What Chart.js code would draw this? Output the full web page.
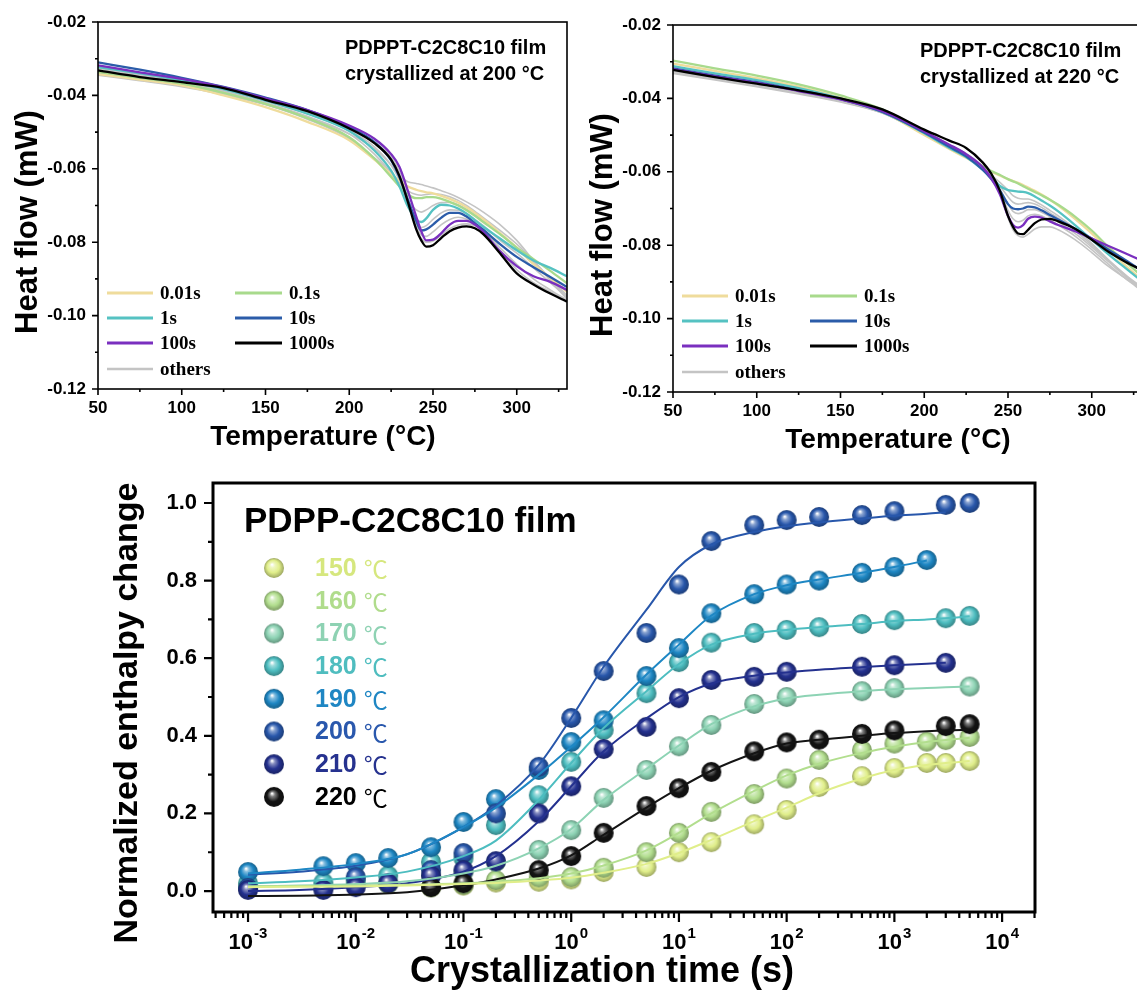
<!DOCTYPE html>
<html>
<head>
<meta charset="utf-8">
<title>PDPPT-C2C8C10 crystallization</title>
<script src="https://cdn.jsdelivr.net/npm/chart.js@4.4.1/dist/chart.umd.min.js"></script>
<style>
  html, body { margin: 0; padding: 0; background: #fff; }
  body { width: 1137px; height: 994px; position: relative; overflow: hidden; }
  canvas { position: absolute; }
</style>
</head>
<body>
<canvas id="dsc200" width="570" height="460" style="left:0;top:0"></canvas>
<canvas id="dsc220" width="600" height="460" style="left:575px;top:3px"></canvas>
<canvas id="kinetics" width="1137" height="534" style="left:0;top:460px"></canvas>
<script>
const SANS = '"Liberation Sans", Arial, sans-serif';
const SERIF = '"Liberation Serif", "Times New Roman", serif';

// ---------- DSC heating scans (heat flow, mW) ----------
const tempTicks = [50, 100, 150, 200, 250, 300];
const heatTicks = [-0.02, -0.04, -0.06, -0.08, -0.10, -0.12];

const holdLabels = ['0.01s', '0.1s', '1s', '10s', '100s', '1000s'];
const holdColors = ['#efdc9c', '#a8da8c', '#55c2c2', '#2b5ca9', '#7a2fbf', '#000000'];
const othersColor = '#c4c4c4';

// crystallized at 200 °C
const temps200 = [50, 75, 100, 125, 150, 175, 200, 215, 225, 230, 235, 240, 243, 246, 250, 255, 260, 265, 270, 275, 280, 290, 300, 310, 320, 330];
const hf200_001 = [-0.0342, -0.0357, -0.0373, -0.0400, -0.0432, -0.0472, -0.0522, -0.0575, -0.0615, -0.0633, -0.0648, -0.0657, -0.0661, -0.0664, -0.0667, -0.0674, -0.0682, -0.0692, -0.0705, -0.0720, -0.0737, -0.0775, -0.0815, -0.0860, -0.0897, -0.0935];
const hf200_01 = [-0.0336, -0.0352, -0.0368, -0.0393, -0.0423, -0.0462, -0.0514, -0.0572, -0.0622, -0.0648, -0.0670, -0.0680, -0.0680, -0.0677, -0.0677, -0.0682, -0.0690, -0.0700, -0.0713, -0.0728, -0.0745, -0.0778, -0.0815, -0.0846, -0.0878, -0.0912];
const hf200_1 = [-0.0323, -0.0340, -0.0359, -0.0383, -0.0414, -0.0450, -0.0497, -0.0550, -0.0605, -0.0648, -0.0703, -0.0738, -0.0745, -0.0735, -0.0712, -0.0698, -0.0700, -0.0708, -0.0722, -0.0740, -0.0758, -0.0790, -0.0822, -0.0850, -0.0870, -0.0893];
const hf200_10 = [-0.0310, -0.0330, -0.0352, -0.0377, -0.0406, -0.0440, -0.0486, -0.0527, -0.0577, -0.0623, -0.0685, -0.0742, -0.0768, -0.0765, -0.0752, -0.0733, -0.0720, -0.0720, -0.0730, -0.0748, -0.0766, -0.0805, -0.0840, -0.0868, -0.0895, -0.0922];
const hf200_100 = [-0.0318, -0.0337, -0.0355, -0.0378, -0.0408, -0.0440, -0.0482, -0.0518, -0.0560, -0.0595, -0.0660, -0.0730, -0.0770, -0.0795, -0.0793, -0.0775, -0.0752, -0.0742, -0.0742, -0.0752, -0.0772, -0.0825, -0.0865, -0.0893, -0.0908, -0.0930];
const hf200_1000 = [-0.0332, -0.0350, -0.0364, -0.0380, -0.0412, -0.0443, -0.0490, -0.0530, -0.0575, -0.0620, -0.0690, -0.0765, -0.0795, -0.0812, -0.0808, -0.0788, -0.0770, -0.0760, -0.0757, -0.0762, -0.0778, -0.0830, -0.0885, -0.0915, -0.0940, -0.0962];
const hf200_others = [
  [-0.0345, -0.0360, -0.0376, -0.0398, -0.0425, -0.0460, -0.0505, -0.0545, -0.0590, -0.0620, -0.0635, -0.0640, -0.0643, -0.0647, -0.0652, -0.0660, -0.0668, -0.0678, -0.0690, -0.0703, -0.0718, -0.0752, -0.0795, -0.0850, -0.0905, -0.0955],
  [-0.0340, -0.0355, -0.0370, -0.0395, -0.0425, -0.0465, -0.0518, -0.0570, -0.0610, -0.0638, -0.0660, -0.0670, -0.0672, -0.0670, -0.0668, -0.0670, -0.0676, -0.0686, -0.0700, -0.0716, -0.0733, -0.0768, -0.0805, -0.0850, -0.0900, -0.0950],
  [-0.0330, -0.0347, -0.0365, -0.0390, -0.0420, -0.0457, -0.0505, -0.0560, -0.0612, -0.0648, -0.0690, -0.0712, -0.0718, -0.0712, -0.0700, -0.0692, -0.0692, -0.0698, -0.0710, -0.0725, -0.0742, -0.0778, -0.0815, -0.0855, -0.0900, -0.0945],
  [-0.0328, -0.0345, -0.0362, -0.0387, -0.0416, -0.0450, -0.0495, -0.0540, -0.0590, -0.0632, -0.0695, -0.0745, -0.0760, -0.0755, -0.0738, -0.0720, -0.0712, -0.0713, -0.0722, -0.0738, -0.0755, -0.0795, -0.0830, -0.0870, -0.0910, -0.0950],
  [-0.0325, -0.0343, -0.0360, -0.0384, -0.0412, -0.0445, -0.0490, -0.0530, -0.0575, -0.0615, -0.0680, -0.0748, -0.0780, -0.0784, -0.0772, -0.0752, -0.0738, -0.0732, -0.0737, -0.0750, -0.0768, -0.0815, -0.0860, -0.0900, -0.0930, -0.0958],
  [-0.0330, -0.0348, -0.0363, -0.0381, -0.0412, -0.0442, -0.0488, -0.0526, -0.0568, -0.0608, -0.0680, -0.0758, -0.0790, -0.0800, -0.0797, -0.0780, -0.0763, -0.0753, -0.0750, -0.0755, -0.0770, -0.0822, -0.0875, -0.0910, -0.0935, -0.0960]
];

// crystallized at 220 °C
const temps220 = [50, 75, 100, 125, 150, 175, 200, 215, 225, 235, 240, 245, 250, 253, 256, 259, 262, 266, 270, 275, 280, 290, 300, 310, 320, 330];
const hf220_001 = [-0.0305, -0.0325, -0.0345, -0.0368, -0.0398, -0.0436, -0.0500, -0.0538, -0.0562, -0.0588, -0.0600, -0.0610, -0.0620, -0.0625, -0.0630, -0.0636, -0.0643, -0.0652, -0.0662, -0.0676, -0.0692, -0.0728, -0.0768, -0.0812, -0.0855, -0.0895];
const hf220_01 = [-0.0297, -0.0318, -0.0338, -0.0362, -0.0392, -0.0430, -0.0492, -0.0532, -0.0558, -0.0585, -0.0598, -0.0608, -0.0620, -0.0626, -0.0632, -0.0639, -0.0646, -0.0655, -0.0664, -0.0676, -0.0690, -0.0722, -0.0760, -0.0805, -0.0845, -0.0885];
const hf220_1 = [-0.0312, -0.0332, -0.0350, -0.0372, -0.0400, -0.0437, -0.0495, -0.0535, -0.0560, -0.0595, -0.0615, -0.0638, -0.0650, -0.0652, -0.0654, -0.0655, -0.0658, -0.0667, -0.0678, -0.0692, -0.0708, -0.0745, -0.0785, -0.0825, -0.0862, -0.0898];
const hf220_10 = [-0.0318, -0.0338, -0.0356, -0.0378, -0.0402, -0.0437, -0.0493, -0.0532, -0.0558, -0.0595, -0.0620, -0.0650, -0.0688, -0.0700, -0.0702, -0.0700, -0.0695, -0.0697, -0.0705, -0.0718, -0.0730, -0.0755, -0.0782, -0.0812, -0.0840, -0.0870];
const hf220_100 = [-0.0320, -0.0340, -0.0358, -0.0380, -0.0403, -0.0435, -0.0490, -0.0526, -0.0552, -0.0588, -0.0618, -0.0660, -0.0720, -0.0745, -0.0752, -0.0745, -0.0728, -0.0722, -0.0725, -0.0735, -0.0745, -0.0762, -0.0782, -0.0802, -0.0822, -0.0842];
const hf220_1000 = [-0.0322, -0.0342, -0.0360, -0.0378, -0.0400, -0.0430, -0.0485, -0.0515, -0.0535, -0.0575, -0.0605, -0.0650, -0.0720, -0.0750, -0.0768, -0.0770, -0.0758, -0.0740, -0.0730, -0.0728, -0.0735, -0.0755, -0.0785, -0.0818, -0.0845, -0.0868];
const hf220_others = [
  [-0.0330, -0.0348, -0.0366, -0.0386, -0.0408, -0.0440, -0.0497, -0.0535, -0.0560, -0.0592, -0.0610, -0.0628, -0.0650, -0.0665, -0.0672, -0.0674, -0.0674, -0.0680, -0.0690, -0.0705, -0.0720, -0.0755, -0.0795, -0.0840, -0.0880, -0.0915],
  [-0.0326, -0.0345, -0.0363, -0.0384, -0.0406, -0.0439, -0.0496, -0.0534, -0.0559, -0.0592, -0.0612, -0.0638, -0.0668, -0.0683, -0.0688, -0.0686, -0.0684, -0.0688, -0.0697, -0.0712, -0.0726, -0.0760, -0.0800, -0.0842, -0.0882, -0.0918],
  [-0.0324, -0.0343, -0.0361, -0.0382, -0.0405, -0.0438, -0.0494, -0.0532, -0.0557, -0.0592, -0.0614, -0.0645, -0.0688, -0.0708, -0.0714, -0.0710, -0.0703, -0.0703, -0.0710, -0.0722, -0.0736, -0.0768, -0.0805, -0.0845, -0.0885, -0.0920],
  [-0.0326, -0.0345, -0.0362, -0.0382, -0.0404, -0.0436, -0.0492, -0.0530, -0.0555, -0.0590, -0.0614, -0.0650, -0.0705, -0.0728, -0.0736, -0.0732, -0.0720, -0.0716, -0.0720, -0.0732, -0.0745, -0.0775, -0.0812, -0.0852, -0.0890, -0.0925],
  [-0.0332, -0.0350, -0.0368, -0.0388, -0.0410, -0.0440, -0.0495, -0.0528, -0.0550, -0.0585, -0.0610, -0.0655, -0.0725, -0.0758, -0.0774, -0.0778, -0.0770, -0.0756, -0.0750, -0.0750, -0.0758, -0.0785, -0.0820, -0.0858, -0.0890, -0.0920]
];

// ---------- isothermal kinetics (normalized enthalpy change) ----------
const timeExps = [-3, -2, -1, 0, 1, 2, 3, 4];
const enthalpyTicks = [0, 0.2, 0.4, 0.6, 0.8, 1.0];

const t150 = [0.05, 0.1, 0.2, 0.5, 1, 2, 5, 10, 20, 50, 100, 200, 500, 1000, 2000, 3000, 5000];
const y150 = [0.010, 0.014, 0.022, 0.024, 0.030, 0.049, 0.062, 0.100, 0.126, 0.172, 0.209, 0.268, 0.296, 0.317, 0.330, 0.330, 0.335];
const t160 = [0.02, 0.05, 0.1, 0.2, 0.5, 1, 2, 5, 10, 20, 50, 100, 200, 500, 1000, 2000, 3000, 5000];
const y160 = [0.018, 0.010, 0.016, 0.028, 0.035, 0.036, 0.060, 0.100, 0.150, 0.204, 0.250, 0.290, 0.338, 0.363, 0.380, 0.385, 0.389, 0.397];
const t170 = [0.001, 0.005, 0.01, 0.02, 0.05, 0.1, 0.2, 0.5, 1, 2, 5, 10, 20, 50, 100, 500, 1000, 5000];
const y170 = [0.012, 0.010, 0.020, 0.020, 0.040, 0.050, 0.075, 0.106, 0.157, 0.240, 0.312, 0.373, 0.428, 0.482, 0.500, 0.515, 0.523, 0.527];
const t180 = [0.001, 0.005, 0.01, 0.02, 0.05, 0.1, 0.2, 0.5, 1, 2, 5, 10, 20, 50, 100, 200, 500, 1000, 3000, 5000];
const y180 = [0.020, 0.022, 0.030, 0.040, 0.075, 0.085, 0.170, 0.247, 0.333, 0.415, 0.510, 0.590, 0.640, 0.665, 0.673, 0.680, 0.688, 0.698, 0.703, 0.709];
const t190 = [0.001, 0.005, 0.01, 0.02, 0.05, 0.1, 0.2, 0.5, 1, 2, 5, 10, 20, 50, 100, 200, 500, 1000, 2000];
const y190 = [0.049, 0.064, 0.072, 0.085, 0.113, 0.178, 0.237, 0.312, 0.384, 0.440, 0.554, 0.626, 0.716, 0.765, 0.790, 0.800, 0.820, 0.835, 0.853];
const t200 = [0.001, 0.01, 0.05, 0.1, 0.2, 0.5, 1, 2, 5, 10, 20, 50, 100, 200, 500, 1000, 3000, 5000];
const y200 = [0.008, 0.036, 0.054, 0.098, 0.200, 0.320, 0.446, 0.567, 0.665, 0.790, 0.902, 0.943, 0.956, 0.964, 0.969, 0.979, 0.995, 1.000];
const t210 = [0.001, 0.005, 0.01, 0.02, 0.05, 0.1, 0.2, 0.5, 1, 2, 5, 10, 20, 50, 100, 500, 1000, 3000];
const y210 = [0.003, 0.003, 0.010, 0.020, 0.040, 0.054, 0.077, 0.200, 0.270, 0.366, 0.423, 0.497, 0.544, 0.552, 0.565, 0.578, 0.582, 0.588];
const t220 = [0.05, 0.1, 0.5, 1, 2, 5, 10, 20, 50, 100, 200, 500, 1000, 3000, 5000];
const y220 = [0.010, 0.020, 0.054, 0.090, 0.150, 0.219, 0.265, 0.307, 0.360, 0.383, 0.390, 0.405, 0.414, 0.425, 0.430];

// fitted curves, sampled on a common time grid
const fitTimes = [0.001, 0.003, 0.01, 0.03, 0.1, 0.2, 0.5, 1, 2, 5, 10, 20, 50, 100, 200, 500, 1000, 2000, 3000, 5000];
const fit150 = [0.010, 0.011, 0.012, 0.014, 0.018, 0.021, 0.027, 0.034, 0.047, 0.070, 0.098, 0.132, 0.180, 0.215, 0.252, 0.290, 0.312, 0.325, 0.330, 0.335];
const fit160 = [0.012, 0.013, 0.014, 0.016, 0.020, 0.024, 0.033, 0.045, 0.066, 0.105, 0.150, 0.200, 0.258, 0.298, 0.328, 0.356, 0.372, 0.384, 0.389, 0.395];
const fit170 = [0.012, 0.014, 0.018, 0.025, 0.045, 0.065, 0.110, 0.160, 0.235, 0.315, 0.375, 0.430, 0.476, 0.496, 0.506, 0.515, 0.520, 0.523, 0.525, 0.527];
const fit180 = [0.020, 0.025, 0.035, 0.050, 0.090, 0.130, 0.235, 0.330, 0.420, 0.515, 0.585, 0.635, 0.663, 0.673, 0.680, 0.688, 0.696, 0.700, 0.703, 0.708];
const fit190 = [0.045, 0.055, 0.070, 0.095, 0.165, 0.215, 0.300, 0.372, 0.448, 0.558, 0.635, 0.710, 0.765, 0.788, 0.803, 0.820, 0.835, 0.852, null, null];
const fit200 = [0.042, 0.050, 0.065, 0.095, 0.165, 0.220, 0.325, 0.446, 0.578, 0.725, 0.835, 0.893, 0.925, 0.940, 0.950, 0.960, 0.967, 0.972, 0.976, null];
const fit210 = [0.000, 0.003, 0.010, 0.020, 0.050, 0.090, 0.180, 0.270, 0.360, 0.445, 0.500, 0.535, 0.555, 0.563, 0.570, 0.577, 0.582, 0.586, 0.588, null];
const fit220 = [-0.013, -0.012, -0.009, -0.003, 0.015, 0.030, 0.058, 0.092, 0.145, 0.215, 0.265, 0.310, 0.355, 0.380, 0.390, 0.400, 0.407, 0.412, 0.414, 0.415];

const kineticSeries = [
  { label: '150', t: t150, y: y150, fit: fit150, color: '#e0ee8a', text: '#d6e77e' },
  { label: '160', t: t160, y: y160, fit: fit160, color: '#b2de8e', text: '#b0dc8c' },
  { label: '170', t: t170, y: y170, fit: fit170, color: '#8dd3b4', text: '#8ed2b3' },
  { label: '180', t: t180, y: y180, fit: fit180, color: '#4dbdc0', text: '#4fbdbf' },
  { label: '190', t: t190, y: y190, fit: fit190, color: '#1e87c4', text: '#1f86c3' },
  { label: '200', t: t200, y: y200, fit: fit200, color: '#2857ab', text: '#2a58ad' },
  { label: '210', t: t210, y: y210, fit: fit210, color: '#24318f', text: '#26328f' },
  { label: '220', t: t220, y: y220, fit: fit220, color: '#141414', text: '#000000' }
];

function toPoints(xs, ys) {
  return ys.map((v, i) => ({ x: xs[i], y: v }));
}

function mix(hex, other, k) {
  const a = parseInt(hex.slice(1), 16), b = parseInt(other.slice(1), 16);
  const ch = s => [(s >> 16) & 255, (s >> 8) & 255, s & 255];
  const p = ch(a), q = ch(b);
  return 'rgb(' + p.map((c, i) => Math.round(c + (q[i] - c) * k)).join(',') + ')';
}

// shaded ball used as the marker
function sphere(color, r) {
  const c = document.createElement('canvas');
  const s = r * 2 + 2;
  c.width = c.height = s;
  const g = c.getContext('2d');
  const cx = s / 2, cy = s / 2;
  const grad = g.createRadialGradient(cx - r * 0.2, cy - r * 0.35, r * 0.04, cx, cy, r);
  grad.addColorStop(0, '#ffffff');
  grad.addColorStop(0.22, mix(color, '#ffffff', 0.45));
  grad.addColorStop(0.6, color);
  grad.addColorStop(1, mix(color, '#000000', 0.3));
  g.fillStyle = grad;
  g.beginPath();
  g.arc(cx, cy, r, 0, Math.PI * 2);
  g.fill();
  return c;
}

// axes box, ticks, labels and legend of a heat-flow panel
const heatFlowFrame = {
  id: 'heatFlowFrame',
  afterDatasetsDraw(chart) {
    const { ctx, chartArea: a, scales: { x, y } } = chart;
    const caption = chart.options.plugins.heatFlowFrame.caption;
    ctx.save();
    ctx.strokeStyle = '#000';
    ctx.lineWidth = 1.6;
    ctx.strokeRect(a.left, a.top, a.width, a.height);

    ctx.beginPath();
    tempTicks.forEach(t => {
      [t, t + 25].forEach((v, k) => {
        const px = x.getPixelForValue(v);
        if (px > a.right) return;
        ctx.moveTo(px, a.bottom);
        ctx.lineTo(px, a.bottom + (k === 0 ? 6 : 3));
      });
    });
    heatTicks.forEach(v => {
      [v, v - 0.01].forEach((w, k) => {
        if (w < -0.1201) return;
        const py = y.getPixelForValue(w);
        ctx.moveTo(a.left, py);
        ctx.lineTo(a.left - (k === 0 ? 6 : 3), py);
      });
    });
    ctx.stroke();

    ctx.fillStyle = '#000';
    ctx.font = 'bold 17px ' + SANS;
    ctx.textBaseline = 'middle';
    ctx.textAlign = 'center';
    tempTicks.forEach(t => ctx.fillText(String(t), x.getPixelForValue(t), a.bottom + 19));
    ctx.textAlign = 'right';
    heatTicks.forEach(v => ctx.fillText(v.toFixed(2), a.left - 12, y.getPixelForValue(v)));

    ctx.textAlign = 'center';
    ctx.font = 'bold 28px ' + SANS;
    ctx.fillText('Temperature (\u00B0C)', 323, 437);
    ctx.save();
    ctx.translate(28, 222);
    ctx.rotate(-Math.PI / 2);
    ctx.font = 'bold 31px ' + SANS;
    ctx.fillText('Heat flow (mW)', 0, 0);
    ctx.restore();

    ctx.textAlign = 'left';
    ctx.font = 'bold 20px ' + SANS;
    ctx.fillText(caption[0], 345, 48);
    ctx.fillText(caption[1], 345, 74);

    // legend, two columns
    const rows = [293, 318, 343, 369];
    const cols = [[107, 153, 160], [235, 282, 289]];
    const entries = holdLabels.map((l, i) => [l, holdColors[i], 3]).concat([['others', othersColor, 2.5]]);
    ctx.font = 'bold 19px ' + SERIF;
    entries.forEach((e, i) => {
      const c = cols[i % 2], r = rows[Math.floor(i / 2)];
      ctx.strokeStyle = e[1];
      ctx.lineWidth = e[2];
      ctx.beginPath();
      ctx.moveTo(c[0], r);
      ctx.lineTo(c[1], r);
      ctx.stroke();
      ctx.fillStyle = '#000';
      ctx.fillText(e[0], c[2], r + 1);
    });
    ctx.restore();
  }
};

function heatFlowPanel(canvasId, temps, series, others, caption) {
  const datasets = series.map((vals, i) => ({
    data: toPoints(temps, vals),
    borderColor: holdColors[i],
    borderWidth: 2.3,
    order: series.length - i
  }));
  others.forEach(vals => datasets.push({
    data: toPoints(temps, vals),
    borderColor: othersColor,
    borderWidth: 1.6,
    order: 20
  }));
  return new Chart(document.getElementById(canvasId), {
    type: 'line',
    data: { datasets },
    options: {
      responsive: false,
      animation: false,
      events: [],
      layout: { padding: { left: 98, top: 22, right: canvasId === 'dsc200' ? 3 : 33, bottom: 71 } },
      elements: {
        point: { radius: 0 },
        line: { cubicInterpolationMode: 'monotone', fill: false }
      },
      scales: {
        x: { type: 'linear', min: 50, max: 330, display: false },
        y: { type: 'linear', min: -0.12, max: -0.02, display: false }
      },
      plugins: {
        legend: { display: false },
        tooltip: { enabled: false },
        heatFlowFrame: { caption }
      }
    },
    plugins: [heatFlowFrame]
  });
}

heatFlowPanel('dsc200', temps200,
  [hf200_001, hf200_01, hf200_1, hf200_10, hf200_100, hf200_1000], hf200_others,
  ['PDPPT-C2C8C10 film', 'crystallized at 200 \u00B0C']);
heatFlowPanel('dsc220', temps220,
  [hf220_001, hf220_01, hf220_1, hf220_10, hf220_100, hf220_1000], hf220_others,
  ['PDPPT-C2C8C10 film', 'crystallized at 220 \u00B0C']);

// ---------- kinetics panel ----------
const balls = kineticSeries.map(s => sphere(s.color, 10));

function powerLabel(ctx, cx, cy, exp) {
  const base = '10', sup = String(exp);
  ctx.font = 'bold 22px ' + SANS;
  const wb = ctx.measureText(base).width;
  ctx.font = 'bold 15px ' + SANS;
  const ws = ctx.measureText(sup).width;
  const left = cx - (wb + ws + 1) / 2;
  ctx.textAlign = 'left';
  ctx.font = 'bold 22px ' + SANS;
  ctx.fillText(base, left, cy);
  ctx.font = 'bold 15px ' + SANS;
  ctx.fillText(sup, left + wb + 1, cy - 9);
}

const kineticsFrame = {
  id: 'kineticsFrame',
  afterDatasetsDraw(chart) {
    const { ctx, chartArea: a, scales: { x, y } } = chart;
    ctx.save();
    ctx.strokeStyle = '#000';
    ctx.lineWidth = 3;
    ctx.strokeRect(a.left, a.top, a.width, a.height);

    ctx.lineWidth = 2.2;
    ctx.beginPath();
    for (let e = -4; e <= 4; e++) {
      for (let m = 1; m <= 9; m++) {
        const v = m * Math.pow(10, e);
        if (v < x.min || v > x.max) continue;
        const px = x.getPixelForValue(v);
        ctx.moveTo(px, a.bottom);
        ctx.lineTo(px, a.bottom + (m === 1 ? 10 : 6));
      }
    }
    enthalpyTicks.forEach(v => {
      [v, v + 0.1].forEach((w, k) => {
        if (w > y.max) return;
        const py = y.getPixelForValue(w);
        ctx.moveTo(a.left, py);
        ctx.lineTo(a.left - (k === 0 ? 9 : 5), py);
      });
    });
    ctx.stroke();

    ctx.fillStyle = '#000';
    ctx.textBaseline = 'middle';
    timeExps.forEach(e => powerLabel(ctx, x.getPixelForValue(Math.pow(10, e)), a.bottom + 31, e));
    ctx.textAlign = 'right';
    ctx.font = 'bold 22px ' + SANS;
    enthalpyTicks.forEach(v => ctx.fillText(v.toFixed(1), a.left - 16, y.getPixelForValue(v)));

    ctx.textAlign = 'center';
    ctx.font = 'bold 36px ' + SANS;
    ctx.fillText('Crystallization time (s)', 602, 512);
    ctx.save();
    ctx.translate(128, 253);
    ctx.rotate(-Math.PI / 2);
    ctx.font = 'bold 34px ' + SANS;
    ctx.fillText('Normalized enthalpy change', 0, 0);
    ctx.restore();

    ctx.textAlign = 'left';
    ctx.font = 'bold 35px ' + SANS;
    ctx.fillText('PDPP-C2C8C10 film', 244, 62);

    // legend
    kineticSeries.forEach((s, i) => {
      const cy = 108 + i * 32.7;
      ctx.drawImage(balls[i], 274 - balls[i].width / 2, cy - balls[i].height / 2);
      ctx.fillStyle = s.text;
      ctx.font = 'bold 25px ' + SANS;
      ctx.fillText(s.label, 315, cy + 1);
      const w = ctx.measureText(s.label + ' ').width;
      ctx.font = '24px "Noto Sans CJK SC", "DejaVu Sans", sans-serif';
      ctx.fillText('\u2103', 315 + w, cy + 1);
    });
    ctx.restore();
  }
};

const kineticDatasets = [];
kineticSeries.forEach((s, i) => {
  kineticDatasets.push({
    data: toPoints(fitTimes, s.fit),
    showLine: true,
    borderColor: s.color,
    borderWidth: 2,
    pointRadius: 0,
    cubicInterpolationMode: 'monotone',
    order: i
  });
  kineticDatasets.push({
    data: toPoints(s.t, s.y),
    showLine: false,
    pointStyle: balls[i],
    pointRadius: 10,
    order: 20 + (7 - i)
  });
});

new Chart(document.getElementById('kinetics'), {
  type: 'scatter',
  data: { datasets: kineticDatasets },
  options: {
    responsive: false,
    animation: false,
    events: [],
    layout: { padding: { left: 213, top: 23, right: 102, bottom: 82 } },
    scales: {
      x: { type: 'logarithmic', min: 4.73e-4, max: 2.02e4, display: false },
      y: { type: 'linear', min: -0.054, max: 1.0515, display: false }
    },
    plugins: { legend: { display: false }, tooltip: { enabled: false } }
  },
  plugins: [kineticsFrame]
});
</script>
</body>
</html>
